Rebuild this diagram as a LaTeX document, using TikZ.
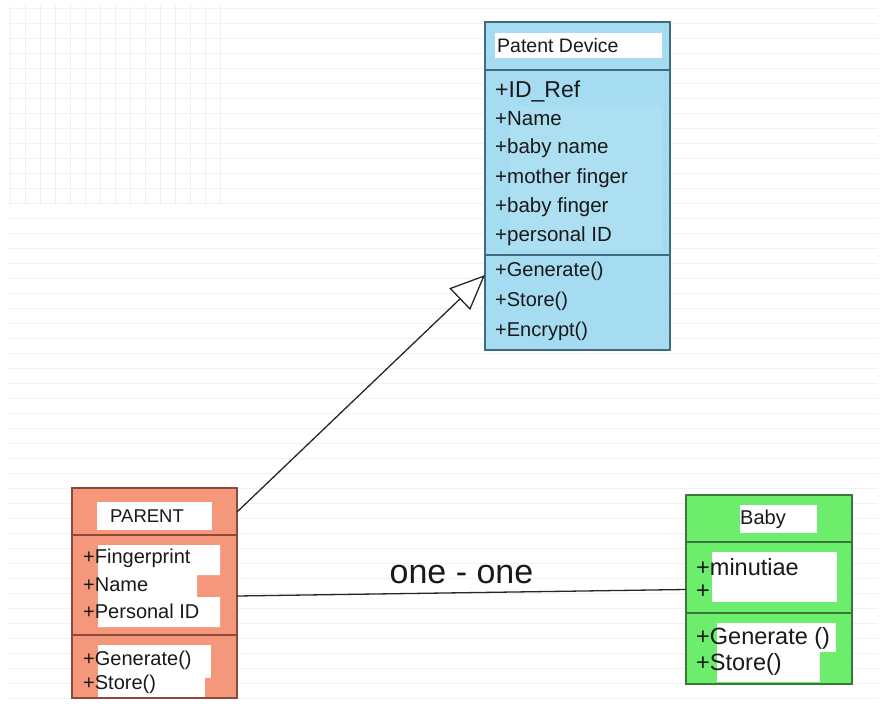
\documentclass[tikz,border=0pt]{standalone}
\usepackage{fontspec}
\setmainfont{Liberation Sans}
\usetikzlibrary{arrows.meta}
\definecolor{blueF}{HTML}{A6DCF2}
\definecolor{blueL}{HTML}{ADDFF2}
\definecolor{blueD}{HTML}{3F6B7E}
\definecolor{salF}{HTML}{F4977B}
\definecolor{salD}{HTML}{8A4B3B}
\definecolor{grnF}{HTML}{6CEE6C}
\definecolor{grnD}{HTML}{3B763B}
\definecolor{gridC}{HTML}{F1F1F1}
\tikzset{
  comp/.style={rectangle, inner sep=0pt, outer sep=0pt, line width=2pt, anchor=north west, minimum width=#1},
  patch/.style={fill=white, draw=none},
  txt/.style={inner sep=0pt, anchor=west, text=black!90},
  conn/.style={line width=1.3pt, black!85},
}
\newcommand{\fs}[1]{\fontsize{#1}{#1}\selectfont}
\begin{document}
\begin{tikzpicture}[x=1pt,y=-1pt]
\useasboundingbox (0,0) rectangle (883,712);
% faint background grid
\foreach \yy in {8,23,...,700} \draw[gridC, line width=0.6pt] (8,\yy) -- (878,\yy);
\foreach \xx in {10,25,...,220} \draw[gridC, line width=0.6pt] (\xx,5) -- (\xx,205);
% ---------- Patent Device ----------
\node[comp=185, minimum height=48, fill=blueF, draw=blueD] (dtitle) at (485,22) {};
\node[comp=185, minimum height=185, fill=blueF, draw=blueD] (dattr) at (485,70) {};
\node[comp=185, minimum height=95, fill=blueF, draw=blueD] (dmeth) at (485,255) {};
\fill[patch] (495,33) rectangle (662,58);
\fill[blueL] (510,107) rectangle (662,250);
\node[txt, font=\fs{19.5}] (dname) at (497,45.5) {Patent Device};
\node[txt, font=\fs{23}] (d1) at (495,91) {+ID\_Ref};
\node[txt, font=\fs{20.5}] (d2) at (495,119) {+Name};
\node[txt, font=\fs{20.5}] (d3) at (495,148) {+baby name};
\node[txt, font=\fs{20.5}] (d4) at (495,178) {+mother finger};
\node[txt, font=\fs{20.5}] (d5) at (495,207) {+baby finger};
\node[txt, font=\fs{20.5}] (d6) at (495,236) {+personal ID};
\node[txt, font=\fs{20}] (d7) at (495,271) {+Generate()};
\node[txt, font=\fs{20}] (d8) at (495,301) {+Store()};
\node[txt, font=\fs{20}] (d9) at (495,331) {+Encrypt()};
% ---------- PARENT ----------
\node[comp=165, minimum height=47, fill=salF, draw=salD] (ptitle) at (72,488) {};
\node[comp=165, minimum height=100, fill=salF, draw=salD] (pattr) at (72,535) {};
\node[comp=165, minimum height=63, fill=salF, draw=salD] (pmeth) at (72,635) {};
\fill[patch] (97,502) rectangle (212,530);
\fill[patch] (98,545) -- (220,545) -- (220,575) -- (197,575) -- (197,597) -- (220,597) -- (220,627) -- (98,627) -- cycle;
\fill[patch] (98,645) rectangle (211,678);
\fill[patch] (98,678) rectangle (205,697);
\node[txt, font=\fs{18.5}] (pname) at (110,516) {PARENT};
\node[txt, font=\fs{20}] (p1) at (83,558) {+Fingerprint};
\node[txt, font=\fs{20}] (p2) at (83,585) {+Name};
\node[txt, font=\fs{20}] (p3) at (83,611) {+Personal ID};
\node[txt, font=\fs{20}] (p4) at (83,660) {+Generate()};
\node[txt, font=\fs{20}] (p5) at (83,684) {+Store()};
% ---------- Baby ----------
\node[comp=166, minimum height=47, fill=grnF, draw=grnD] (btitle) at (686,495) {};
\node[comp=166, minimum height=71, fill=grnF, draw=grnD] (battr) at (686,542) {};
\node[comp=166, minimum height=71, fill=grnF, draw=grnD] (bmeth) at (686,613) {};
\fill[patch] (740,505) rectangle (817,533);
\fill[patch] (712,552) rectangle (837,602);
\fill[patch] (717,623) rectangle (836,652);
\fill[patch] (717,652) rectangle (820,682);
\node[txt, font=\fs{20}] (bname) at (740,519) {Baby};
\node[txt, font=\fs{23.5}] (b1) at (696,567) {+minutiae};
\node[txt, font=\fs{23.5}] (b2) at (696,592) {+};
\node[txt, font=\fs{23.5}] (b3) at (696,638) {+Generate ()};
\node[txt, font=\fs{23.5}] (b4) at (696,664) {+Store()};
% ---------- connectors ----------
\draw[conn, -{Triangle[open, length=35pt, width=30pt, line width=1.3pt, fill=white]}]
  ([yshift=-24pt]ptitle.north east) -- ([yshift=-20pt]dmeth.north west);
\draw[conn] ([yshift=-11pt]pattr.east) -- node[above=5pt, font=\fs{34}, text=black!90] (lbl) {one - one} ([yshift=-12pt]battr.west);
\end{tikzpicture}
\end{document}
